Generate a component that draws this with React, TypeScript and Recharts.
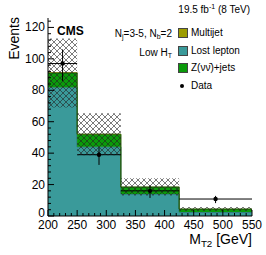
import { Area, ComposedChart, ErrorBar, Scatter, XAxis, YAxis } from "recharts";

// bin edges of M_T2 (GeV); last value is repeated so the step reaches 550
const binEdges = [200, 250, 325, 425, 550];
const lostLepton = [82, 44, 14, 2.5, 2.5];
const zinv = [9, 8, 4.4, 1.9, 1.9];
const multijet = [0.3, 0.2, 0.1, 0.05, 0.05];
const uncLow = [69, 38.7, 13, 3.2, 3.2];
const uncHigh = [113, 65.4, 24, 5.7, 5.7];

// observed data, plotted at bin centres
const dataX = [225, 287.5, 375, 487.5];
const dataY = [97, 39, 16, 10.8];
const dataErrLow = [11, 6.5, 4.5, 2.6];
const dataErrHigh = [9, 4.5, 3.5, 2];

const yTicks = Array.from({ length: 32 }, (_, i) => i * 4);
const xTicks = Array.from({ length: 36 }, (_, i) => 200 + i * 10);

const hist = binEdges.map((x, i) => ({
  x,
  lost: lostLepton[i],
  z: zinv[i],
  qcd: multijet[i],
  unc: [uncLow[i], uncHigh[i]],
}));

const points = dataX.map((x, i) => {
  const lo = binEdges[i];
  const hi = binEdges[i + 1];
  return { x, y: dataY[i], ey: [dataErrLow[i], dataErrHigh[i]], ex: [x - lo, hi - x] };
});

const FONT = "'Liberation Sans', Arial, Helvetica, sans-serif";

function LeftTick(props: any) {
  const { x, y, payload } = props;
  const major = payload.value % 20 === 0;
  // the zero label sits a little higher so it clears the x labels
  const dy = payload.value === 0 ? 1 : 4;
  return (
    <g>
      <line x1={x} x2={x + (major ? 6 : 3)} y1={y} y2={y} stroke="#000" strokeWidth={1} />
      {major && (
        <text x={x - 3} y={y + dy} textAnchor="end" fontSize={12} fontFamily={FONT} fill="#000">
          {payload.value}
        </text>
      )}
    </g>
  );
}

function RightTick(props: any) {
  const { x, y, payload } = props;
  const major = payload.value % 20 === 0;
  return <line x1={x} x2={x - (major ? 6 : 3)} y1={y} y2={y} stroke="#000" strokeWidth={1} />;
}

function BottomTick(props: any) {
  const { x, y, payload } = props;
  const major = payload.value % 50 === 0;
  return (
    <g>
      <line x1={x} x2={x} y1={y} y2={y - (major ? 6 : 3)} stroke="#000" strokeWidth={1} />
      {major && (
        <text x={x} y={y + 13} textAnchor="middle" fontSize={12} fontFamily={FONT} fill="#000">
          {payload.value}
        </text>
      )}
    </g>
  );
}

function TopTick(props: any) {
  const { x, y, payload } = props;
  const major = payload.value % 50 === 0;
  return <line x1={x} x2={x} y1={y} y2={y + (major ? 6 : 3)} stroke="#000" strokeWidth={1} />;
}

const sub = { fontSize: "70%", position: "relative" as const, top: "0.35em" };

export default function App() {
  const box = (top: number, color: string) => (
    <div
      style={{
        position: "absolute",
        left: 178,
        top,
        width: 10,
        height: 10,
        background: color,
        boxSizing: "border-box",
        border: "1px solid #444",
      }}
    />
  );
  const label = (top: number, text: React.ReactNode) => (
    <div style={{ position: "absolute", left: 191, top, fontSize: 10, lineHeight: "10px", whiteSpace: "nowrap" }}>
      {text}
    </div>
  );

  return (
    <div style={{ position: "absolute", left: 0, top: 0, width: 266, height: 255, background: "#fff", fontFamily: FONT }}>
      <svg width={0} height={0} style={{ position: "absolute" }}>
        <defs>
          <pattern id="hatch" patternUnits="userSpaceOnUse" width={6} height={6}>
            <path d="M0,0 L6,6 M6,0 L0,6" stroke="#222" strokeWidth={0.6} />
          </pattern>
        </defs>
      </svg>
      <ComposedChart width={266} height={255} data={hist} margin={{ top: 18, right: 14, bottom: 19, left: 0 }}>
        <XAxis
          dataKey="x"
          type="number"
          domain={[200, 550]}
          ticks={xTicks}
          interval={0}
          tickSize={0}
          tickMargin={0}
          tick={<BottomTick />}
          axisLine={{ stroke: "#000" }}
          height={20}
          allowDataOverflow
        />
        <XAxis
          xAxisId="top"
          orientation="top"
          dataKey="x"
          type="number"
          domain={[200, 550]}
          ticks={xTicks}
          interval={0}
          tickSize={0}
          tickMargin={0}
          tick={<TopTick />}
          axisLine={{ stroke: "#000" }}
          height={0}
          allowDataOverflow
        />
        <YAxis
          type="number"
          domain={[0, 126]}
          ticks={yTicks}
          interval={0}
          tickSize={0}
          tickMargin={0}
          tick={<LeftTick />}
          axisLine={{ stroke: "#000" }}
          width={48}
          allowDataOverflow
        />
        <YAxis
          yAxisId="right"
          orientation="right"
          type="number"
          domain={[0, 126]}
          ticks={yTicks}
          interval={0}
          tickSize={0}
          tickMargin={0}
          tick={<RightTick />}
          axisLine={{ stroke: "#000" }}
          width={0}
          allowDataOverflow
        />
        <Area
          dataKey="lost"
          stackId="bkg"
          type="stepAfter"
          fill="#3a9a9a"
          fillOpacity={1}
          stroke="#2b6f6f"
          strokeWidth={1}
          isAnimationActive={false}
        />
        <Area
          dataKey="z"
          stackId="bkg"
          type="stepAfter"
          fill="#0a9a0a"
          fillOpacity={1}
          stroke="#066006"
          strokeWidth={1}
          isAnimationActive={false}
        />
        <Area
          dataKey="qcd"
          stackId="bkg"
          type="stepAfter"
          fill="#9c9c00"
          fillOpacity={1}
          stroke="#555500"
          strokeWidth={0.5}
          isAnimationActive={false}
        />
        <Area
          dataKey="unc"
          type="stepAfter"
          fill="url(#hatch)"
          fillOpacity={1}
          stroke="none"
          isAnimationActive={false}
        />
        <Scatter
          data={points}
          dataKey="y"
          fill="#000"
          isAnimationActive={false}
          shape={(p: any) => <circle cx={p.cx} cy={p.cy} r={2.2} fill="#000" />}
        >
          <ErrorBar dataKey="ey" direction="y" width={0} stroke="#000" strokeWidth={1} />
          <ErrorBar dataKey="ex" direction="x" width={0} stroke="#000" strokeWidth={1} />
        </Scatter>
      </ComposedChart>

      <div style={{ position: "absolute", right: 16, top: 5, fontSize: 10, lineHeight: "10px", whiteSpace: "nowrap" }}>
        19.5 fb<sup style={{ fontSize: "70%", lineHeight: 0 }}>-1</sup> (8 TeV)
      </div>
      <div style={{ position: "absolute", left: 57, top: 25, fontSize: 12, fontWeight: "bold", lineHeight: "12px" }}>
        CMS
      </div>
      <div style={{ position: "absolute", right: 94, top: 29, fontSize: 10, lineHeight: "10px", whiteSpace: "nowrap" }}>
        N<span style={sub}>j</span>=3-5, N<span style={sub}>b</span>=2
      </div>
      <div style={{ position: "absolute", right: 94, top: 48, fontSize: 10, lineHeight: "10px", whiteSpace: "nowrap" }}>
        Low H<span style={sub}>T</span>
      </div>

      {box(28, "#9c9c00")}
      {box(46, "#3a9a9a")}
      {box(63, "#0a9a0a")}
      <div
        style={{ position: "absolute", left: 180, top: 84, width: 4, height: 4, borderRadius: 2, background: "#000" }}
      />
      {label(28, "Multijet")}
      {label(46, "Lost lepton")}
      {label(63, "Z(νν\u0304)+jets")}
      {label(81, "Data")}

      <div
        style={{
          position: "absolute",
          left: 7,
          top: 97,
          width: 80,
          textAlign: "right",
          fontSize: 14,
          lineHeight: "14px",
          transform: "rotate(-90deg)",
          transformOrigin: "top left",
        }}
      >
        Events
      </div>
      <div style={{ position: "absolute", right: 14, top: 232, fontSize: 14, lineHeight: "14px", whiteSpace: "nowrap" }}>
        M<span style={sub}>T2</span> [GeV]
      </div>
    </div>
  );
}
